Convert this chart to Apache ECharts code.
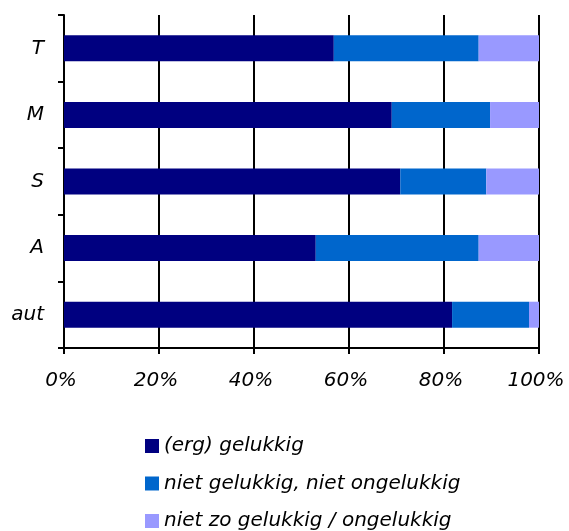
<!DOCTYPE html>
<html>
<head>
<meta charset="utf-8">
<script src="https://cdn.jsdelivr.net/npm/echarts@6/dist/echarts.min.js"></script>
<style>
html,body{margin:0;padding:0;background:#fff;}
#chart{width:569px;height:531px;}
</style>
</head>
<body>
<div id="chart"></div>
<script>
var categories = ['aut', 'A', 'S', 'M', 'T'];
var seriesNames = ['(erg) gelukkig', 'niet gelukkig, niet ongelukkig', 'niet zo gelukkig / ongelukkig'];
var gelukkig = [81.7, 53.0, 70.8, 69.0, 56.8];
var neutraal = [16.2, 34.3, 18.1, 20.7, 30.5];
var ongelukkig = [2.1, 12.7, 11.1, 10.3, 12.7];
var xTicks = [0, 20, 40, 60, 80, 100];
var colors = ['#000080', '#0066CC', '#9999FF'];

var values = [gelukkig, neutraal, ongelukkig];
var font = 'DejaVu Sans, Verdana, sans-serif';

var chart = echarts.init(document.getElementById('chart'), null, {renderer: 'canvas'});
chart.setOption({
  animation: false,
  backgroundColor: '#ffffff',
  grid: {left: 64, right: 30, top: 15, bottom: 183, containLabel: false},
  xAxis: {
    type: 'value',
    min: xTicks[0],
    max: xTicks[xTicks.length - 1],
    interval: xTicks[1] - xTicks[0],
    axisLine: {show: true, lineStyle: {color: '#000', width: 2}},
    axisTick: {show: true, length: 6, lineStyle: {color: '#000', width: 2}},
    splitLine: {show: true, lineStyle: {color: '#000', width: 2}},
    axisLabel: {
      formatter: '{value}%', margin: 23, color: '#000',
      fontFamily: font, fontStyle: 'italic', fontSize: 20,
      padding: [0, 6, 0, 0]
    }
  },
  yAxis: {
    type: 'category',
    data: categories,
    axisLine: {show: true, lineStyle: {color: '#000', width: 2}},
    axisTick: {show: true, length: 6, lineStyle: {color: '#000', width: 2}},
    splitLine: {show: false},
    axisLabel: {
      margin: 20, color: '#000',
      fontFamily: font, fontStyle: 'italic', fontSize: 20
    }
  },
  legend: {
    orient: 'vertical',
    left: 140,
    top: 431,
    height: 120,
    width: 420,
    icon: 'rect',
    itemWidth: 14,
    itemHeight: 14,
    itemGap: 17.5,
    textStyle: {color: '#000', fontFamily: font, fontStyle: 'italic', fontSize: 20, lineHeight: 20},
    data: seriesNames
  },
  series: seriesNames.map(function (name, i) {
    return {
      name: name,
      type: 'bar',
      stack: 'total',
      barWidth: 26,
      itemStyle: {color: colors[i]},
      data: values[i]
    };
  })
});
</script>
</body>
</html>
